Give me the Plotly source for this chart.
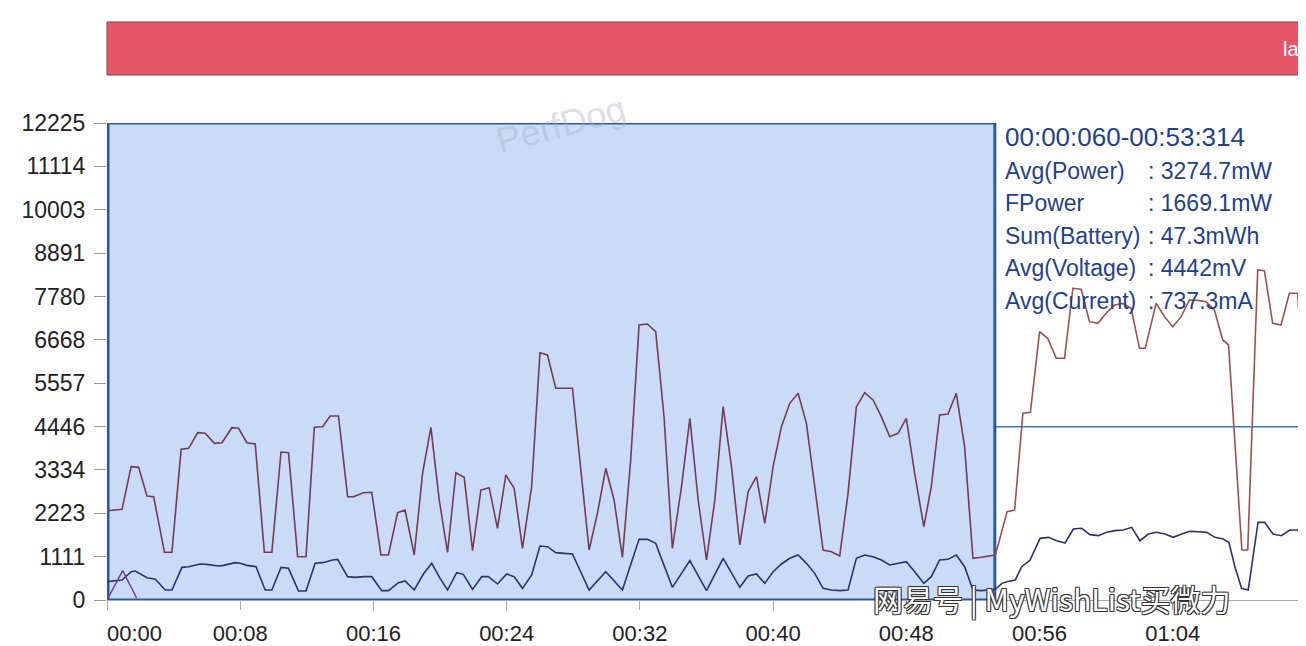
import plotly.graph_objects as go

# ---------------- data ----------------
power_t = [0.0, 0.9, 1.45, 1.9, 2.4, 2.8, 3.45, 3.9, 4.45, 4.9, 5.45, 5.9, 6.45, 6.9, 7.5, 7.9,
           8.4, 8.9, 9.45, 9.9, 10.45, 10.9, 11.45, 11.95, 12.45, 12.95, 13.4, 13.9, 14.45, 14.8,
           15.4, 15.9, 16.45, 16.9, 17.45, 17.9, 18.45, 18.95, 19.45, 19.95, 20.45, 20.95, 21.45,
           21.95, 22.45, 22.95, 23.45, 23.95, 24.45, 24.95, 25.5, 26.0, 26.45, 26.95, 27.45, 27.95,
           28.95, 29.45, 29.95, 30.45, 30.95, 31.45, 31.95, 32.45, 32.95, 33.45, 33.95, 34.5, 35.0,
           35.5, 36.0, 36.5, 37.0, 37.5, 38.0, 38.5, 39.0, 39.5, 40.0, 40.5, 41.0, 41.5, 42.0, 42.5,
           43.0, 43.5, 44.0, 44.5, 45.0, 45.5, 46.0, 46.5, 47.0, 47.5, 48.0, 48.5, 49.05, 49.5, 50.0,
           50.5, 51.0, 51.5, 52.0, 52.5, 53.0, 53.35, 54.05, 54.5, 55.0, 55.45, 56.0, 56.5, 57.0,
           57.5, 58.0, 58.5, 59.0, 59.5, 60.0, 60.5, 61.0, 61.5, 62.0, 62.35, 63.0, 63.5, 64.0, 64.5,
           65.0, 65.5, 66.0, 66.5, 67.0, 67.35, 68.15, 68.5, 69.1, 69.5, 70.0, 70.5, 71.0, 71.5, 72.0]
power_v = [2289, 2324, 3417, 3400, 2665, 2648, 1222, 1222, 3862, 3888, 4288, 4272, 4016, 4032, 4416, 4400,
           4032, 3998, 1222, 1222, 3793, 3776, 1110, 1110, 4426, 4442, 4716, 4716, 2648, 2648,
           2750, 2760, 1153, 1153, 2238, 2307, 1153, 3247, 4426, 2563, 1222, 3263, 3144,
           1264, 2819, 2878, 1837, 3204, 2862, 1325, 2904, 6338, 6279, 5426, 5426, 5426,
           1282, 2221, 3375, 2563, 1094, 3600, 7048, 7074, 6877, 4698, 1325, 2905, 4657,
           2563, 1025, 2563, 4955, 3417, 1410, 2776, 3160, 1965, 3417, 4442, 5041, 5297, 4528, 2905,
           1282, 1238, 1128, 2734, 4955, 5313, 5126, 4698, 4186, 4272, 4657, 3247, 1879, 2905, 4742,
           4767, 5297, 3930, 1068, 1094, 1128, 1153, 2264, 2307, 4785, 4810, 6877, 6700, 6194,
           6194, 7989, 7963, 7133, 7092, 7348, 7561, 7600, 7476, 6451, 6451, 7604, 7262, 7005, 7262,
           7689, 7680, 7646, 7433, 6664, 6536, 1282, 1282, 8458, 8440, 7092, 7048, 7860, 7860, 4200]

fpower_t = [0.0, 0.9, 1.45, 1.7, 2.4, 2.9, 3.5, 3.9, 4.5, 4.9, 5.6, 6.0, 6.7, 7.0, 7.7, 8.0,
            8.4, 8.95, 9.5, 9.9, 10.45, 10.9, 11.5, 11.95, 12.5, 12.95, 13.55, 13.85, 14.45, 14.9,
            15.45, 15.9, 16.5, 16.9, 17.5, 17.9, 18.45, 19.0, 19.5, 20.0, 20.45, 21.0, 21.4, 21.95,
            22.5, 22.9, 23.45, 24.0, 24.45, 24.95, 25.5, 26.0, 26.45, 26.95, 27.45, 27.95, 28.95,
            29.95, 30.95, 31.95, 32.45, 32.95, 33.95, 35.0, 36.0, 37.0, 38.0, 38.5, 39.0, 39.5, 40.0,
            40.5, 41.0, 41.5, 42.0, 42.5, 43.0, 43.5, 44.0, 44.5, 45.0, 45.5, 46.0, 46.5, 47.0, 47.5,
            48.0, 48.5, 49.05, 49.5, 50.0, 50.5, 51.0, 51.5, 52.0, 52.5, 53.0, 53.35, 53.74, 54.04,
            54.54, 54.93, 55.43, 56.03, 56.53, 57.03, 57.53, 58.03, 58.53, 59.03, 59.53, 60.03, 60.53,
            61.03, 61.53, 62.03, 62.53, 63.03, 63.53, 64.03, 64.53, 65.03, 65.53, 66.03, 66.53, 67.03,
            67.37, 67.73, 68.13, 68.53, 69.12, 69.52, 70.02, 70.52, 71.02, 71.52, 72.0]
fpower_v = [470, 513, 726, 743, 572, 530, 256, 256, 837, 854, 923, 914, 871, 888, 957, 940,
            888, 854, 256, 256, 837, 812, 231, 231, 940, 957, 1025, 1042, 598, 581,
            598, 598, 239, 239, 444, 487, 256, 666, 940, 555, 256, 700, 658, 273,
            598, 598, 410, 666, 598, 299, 641, 1384, 1367, 1213, 1196, 1179, 256,
            726, 256, 1555, 1555, 1452, 325, 1008, 239, 1068, 325, 615, 666, 427, 726,
            923, 1068, 1153, 940, 683, 299, 256, 239, 256, 1068, 1153, 1110, 1025, 897, 940,
            982, 726, 427, 598, 1025, 1042, 1153, 854, 256, 239, 256, 273, 427, 470,
            513, 854, 1025, 1580, 1606, 1520, 1461, 1820, 1837, 1675, 1649, 1734, 1777,
            1794, 1862, 1520, 1691, 1734, 1691, 1606, 1691, 1760, 1751, 1734, 1606, 1563,
            1478, 854, 299, 256, 1990, 1990, 1691, 1649, 1794, 1794, 1200]

current_t = [0.0, 0.94, 1.78]
current_v = [0, 751, 51]

y_ticks = [0, 1111, 2223, 3334, 4446, 5557, 6668, 7780, 8891, 10003, 11114, 12225]
x_ticks = [0, 8, 16, 24, 32, 40, 48, 56, 64, 72]
x_labels = ["00:00", "00:08", "00:16", "00:24", "00:32", "00:40", "00:48", "00:56", "01:04", "01:12"]

sel_start, sel_end = 0.06, 53.314
avg_voltage = 4442
y_max = 12225
x_max = 72

stats_title = "00:00:060-00:53:314"
stats_labels = ["Avg(Power)", "FPower", "Sum(Battery)", "Avg(Voltage)", "Avg(Current)"]
stats_values = [": 3274.7mW", ": 1669.1mW", ": 47.3mWh", ": 4442mV", ": 737.3mA"]

# ---------------- figure ----------------
FONT = "Liberation Sans"
OFF = 8                      # page body margin
W, H = 1298, 638
L, R, T, B = 99, 0, 115, 46
plot_h = H - T - B
plot_w = W - L - R


def py(ypage):
    return (H - B - (ypage - OFF)) / plot_h


def px(xpage):
    return (xpage - OFF - L) / plot_w


fig = go.Figure()

in_t = [t for t in power_t if t <= sel_end + 0.1]
in_v = [v for t, v in zip(power_t, power_v) if t <= sel_end + 0.1]
out_t = [t for t in power_t if t >= sel_end - 0.1]
out_v = [v for t, v in zip(power_t, power_v) if t >= sel_end - 0.1]

fig.add_trace(go.Scatter(x=fpower_t, y=fpower_v, mode="lines",
                         line=dict(color="#2e3170", width=1.6), hoverinfo="skip"))
fig.add_trace(go.Scatter(x=in_t, y=in_v, mode="lines",
                         line=dict(color="#753a55", width=1.6), hoverinfo="skip"))
fig.add_trace(go.Scatter(x=out_t, y=out_v, mode="lines",
                         line=dict(color="#a0504a", width=1.6), hoverinfo="skip"))
fig.add_trace(go.Scatter(x=current_t, y=current_v, mode="lines",
                         line=dict(color="#6a3fa0", width=1.5), hoverinfo="skip"))

shapes = [
    # top banner
    dict(type="rect", xref="paper", yref="paper", x0=0, x1=1.0, y0=py(75), y1=py(22),
         fillcolor="#e65567", line=dict(color="#8f3a47", width=1), layer="below"),
    # selection
    dict(type="rect", xref="x", yref="y", x0=sel_start, x1=sel_end, y0=0, y1=y_max,
         fillcolor="#cadbf8", line=dict(color="#2a5c9c", width=3), layer="below"),
    # average voltage line
    dict(type="line", xref="paper", yref="y", x0=0, x1=1, y0=avg_voltage, y1=avg_voltage,
         line=dict(color="#3a7ab8", width=1.4), layer="below"),
]

annotations = []
ann_font = dict(family=FONT, size=23, color="#1f3f8f")
annotations.append(dict(xref="paper", yref="paper", x=px(1003), y=py(137), text=stats_title,
                        showarrow=False, xanchor="left", yanchor="middle",
                        font=dict(family=FONT, size=26, color="#1f3f8f")))
for i, (lab, val) in enumerate(zip(stats_labels, stats_values)):
    yy = py(171 + i * 32.4)
    annotations.append(dict(xref="paper", yref="paper", x=px(1003), y=yy, text=lab,
                            showarrow=False, xanchor="left", yanchor="middle", font=ann_font))
    annotations.append(dict(xref="paper", yref="paper", x=px(1146), y=yy, text=val,
                            showarrow=False, xanchor="left", yanchor="middle", font=ann_font))

# banner text (cut off in the source)
annotations.append(dict(xref="paper", yref="paper", x=px(1281), y=py(49), text="la",
                        showarrow=False, xanchor="left", yanchor="middle",
                        font=dict(family=FONT, size=20, color="#ffffff")))
# PerfDog watermark
annotations.append(dict(xref="paper", yref="paper", x=px(561), y=py(125), text="PerfDog",
                        showarrow=False, textangle=-15, xanchor="center", yanchor="middle",
                        font=dict(family=FONT, size=36, color="rgba(165,172,190,0.40)")))
# site watermark
annotations.append(dict(xref="paper", yref="paper", x=px(1052), y=py(598),
                        text="网易号 | MyWishList买微力", showarrow=False,
                        xanchor="center", yanchor="middle",
                        font=dict(family="Noto Sans CJK SC", size=30, color="#ffffff",
                                  shadow="1px 1px 0 #333, -1px -1px 0 #333, 1px -1px 0 #333, -1px 1px 0 #333")))

tick_text = ["\u00a0" * 9 + x_labels[0]] + x_labels[1:]

fig.update_layout(
    width=W, height=H, autosize=False,
    margin=dict(l=L, r=R, t=T, b=B, autoexpand=False),
    paper_bgcolor="#ffffff", plot_bgcolor="#ffffff",
    showlegend=False,
    shapes=shapes, annotations=annotations,
    font=dict(family=FONT),
    xaxis=dict(range=[0, x_max], tickvals=x_ticks, ticktext=tick_text, automargin=False,
               showgrid=False, zeroline=False, showline=True, linecolor="#a8a8a8", linewidth=1,
               ticks="outside", ticklen=9, tickcolor="#a8a8a8", ticklabelstandoff=5,
               tickfont=dict(family=FONT, size=22, color="#222222")),
    yaxis=dict(range=[0, y_max], tickvals=y_ticks, ticktext=[str(v) for v in y_ticks],
               automargin=False,
               showgrid=False, zeroline=False, showline=False,
               ticks="outside", ticklen=12, tickcolor="#9a9a9a", ticklabelstandoff=4,
               tickfont=dict(family=FONT, size=23, color="#222222")),
)

fig.write_html("out.html")
